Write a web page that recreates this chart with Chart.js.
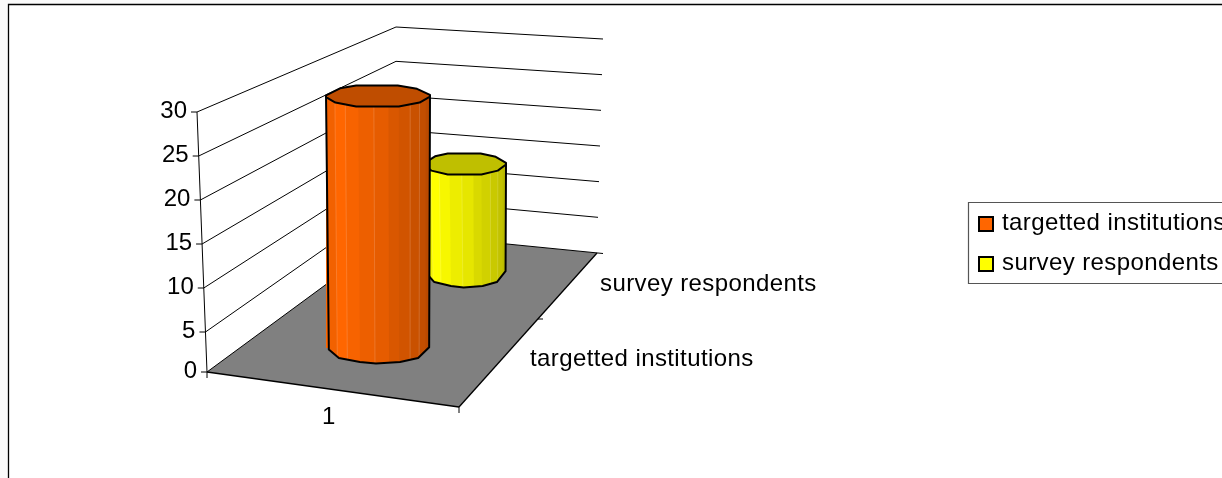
<!DOCTYPE html>
<html>
<head>
<meta charset="utf-8">
<title>Institutions</title>
<script src="https://cdn.jsdelivr.net/npm/chart.js@4"></script>
<style>
  html, body { margin: 0; padding: 0; background: #fafafa; overflow: hidden; }
  canvas { display: block; }
</style>
</head>
<body>
<canvas id="chart" width="1222" height="478"></canvas>
<script>
const categories = ['1'];
const seriesNames = ['targetted institutions', 'survey respondents'];
const targettedValues = [30, null];
const respondentValues = [null, 15];
const tickLabels = [0, 5, 10, 15, 20, 25, 30];
const seriesColors = ['#ff6600', '#ffff00'];

const FONT = '24px "Liberation Sans", Arial, sans-serif';
const TEXT_SPACING = 0.4;
const AREA_TOP = 112;
const AREA_BOTTOM = 376;
const FLOOR_Y = 372;

// corners of the box: floor level and top level
const frontAxis = { bottom: [207, FLOOR_Y], top: [197, 112] };
const backLeft = { bottom: [396, 233], top: [396, 27] };
const backRight = { bottom: [597, 253], top: [603, 39] };
const frontRight = [459, 407];

// each series stands further back, so it gets its own vertical scale
function depthScale(zeroPixel, pxPerUnit) {
    return {
        display: false,
        bounds: 'data',
        min: -(AREA_BOTTOM - zeroPixel) / pxPerUnit,
        max: (zeroPixel - AREA_TOP) / pxPerUnit
    };
}

function lerp(a, b, t) {
    return [a[0] + (b[0] - a[0]) * t, a[1] + (b[1] - a[1]) * t];
}

function line(ctx, a, b) {
    ctx.beginPath();
    ctx.moveTo(a[0], a[1]);
    ctx.lineTo(b[0], b[1]);
    ctx.stroke();
}

function shade(hex, f) {
    const n = parseInt(hex.slice(1), 16);
    const r = Math.round((n >> 16 & 255) * f);
    const g = Math.round((n >> 8 & 255) * f);
    const b = Math.round((n & 255) * f);
    return `rgb(${r},${g},${b})`;
}

function spacedText(ctx, text, x, y, spacing) {
    ctx.letterSpacing = spacing + 'px';
    ctx.fillText(text, x, y);
    ctx.letterSpacing = '0px';
}

// walls, floor and axes sit behind the cylinders
const boxPlugin = {
    id: 'box',
    beforeDatasetsDraw(chart) {
        const ctx = chart.ctx;
        const y = chart.scales.y;
        const maxVal = tickLabels[tickLabels.length - 1];
        ctx.save();
        ctx.fillStyle = '#fff';
        ctx.fillRect(8, 4, 1214, 474);
        ctx.strokeStyle = '#000';
        ctx.lineWidth = 1.3;
        ctx.beginPath();
        ctx.moveTo(8.5, 480);
        ctx.lineTo(8.5, 4.5);
        ctx.lineTo(1224, 4.5);
        ctx.stroke();

        ctx.fillStyle = '#808080';
        ctx.beginPath();
        ctx.moveTo(frontAxis.bottom[0], frontAxis.bottom[1]);
        ctx.lineTo(frontRight[0], frontRight[1]);
        ctx.lineTo(backRight.bottom[0], backRight.bottom[1]);
        ctx.lineTo(backLeft.bottom[0], backLeft.bottom[1]);
        ctx.closePath();
        ctx.fill();

        ctx.lineWidth = 1;
        ctx.fillStyle = '#000';
        ctx.font = FONT;
        ctx.textAlign = 'right';
        ctx.textBaseline = 'alphabetic';
        y.ticks.forEach(tick => {
            const t = tick.value / maxVal;
            const py = Math.min(y.getPixelForValue(tick.value), FLOOR_Y);
            const axisX = frontAxis.bottom[0] + (frontAxis.top[0] - frontAxis.bottom[0]) * (FLOOR_Y - py) / (FLOOR_Y - frontAxis.top[1]);
            const bl = lerp(backLeft.bottom, backLeft.top, t);
            const br = lerp(backRight.bottom, backRight.top, t);
            line(ctx, [axisX, py], bl);
            line(ctx, bl, t === 0 ? [603, 253.5] : br);
            line(ctx, [axisX - 6, py], [axisX, py]);
            ctx.fillText(String(tick.value), axisX - 10, py + 6);
        });
        line(ctx, frontAxis.bottom, frontAxis.top);

        ctx.lineWidth = 1.3;
        line(ctx, frontAxis.bottom, frontRight);
        line(ctx, frontRight, backRight.bottom);
        ctx.lineWidth = 1;
        line(ctx, frontAxis.bottom, [frontAxis.bottom[0], frontAxis.bottom[1] + 6]);
        line(ctx, frontRight, [frontRight[0], frontRight[1] + 6]);
        line(ctx, [538, 319], [543, 319]);

        // axis names
        ctx.textAlign = 'left';
        ctx.fillText(categories[0], 322, 424);
        spacedText(ctx, chart.data.labels[0], 530, 366, TEXT_SPACING);
        spacedText(ctx, chart.data.labels[1], 600, 291, TEXT_SPACING);
        ctx.restore();
    },
    afterDatasetDraw(chart, args) {
        const bar = chart.getDatasetMeta(args.index).data[args.index];
        drawCylinder(chart.ctx, bar, seriesColors[args.index]);
    },
    afterDraw(chart) {
        const ctx = chart.ctx;
        ctx.save();
        ctx.strokeStyle = '#555';
        ctx.lineWidth = 1.2;
        ctx.beginPath();
        ctx.moveTo(1224, 202.5);
        ctx.lineTo(968.5, 202.5);
        ctx.lineTo(968.5, 283.5);
        ctx.lineTo(1224, 283.5);
        ctx.stroke();
        ctx.font = FONT;
        ctx.textAlign = 'left';
        seriesNames.forEach((name, i) => {
            const top = 217 + i * 40;
            ctx.fillStyle = seriesColors[i];
            ctx.fillRect(979, top, 14, 14);
            ctx.strokeStyle = '#000';
            ctx.lineWidth = 2;
            ctx.strokeRect(979, top, 14, 14);
            ctx.fillStyle = '#000';
            spacedText(ctx, name, 1002, 230 + i * 40, TEXT_SPACING);
        });
        ctx.restore();
    }
};

// polygon outlines of the two end caps, as fractions of the half axes
const capFront = [[-1, 0.1], [-0.82, 0.6], [-0.42, 0.95], [0.4, 0.95], [0.8, 0.6], [1, 0.05]];
const capBack = [[1, -0.1], [0.75, -0.65], [0.38, -0.95], [-0.42, -0.95], [-0.73, -0.7], [-1, -0.05]];
const baseFront = [[-1, 0.1], [-0.8, 0.65], [-0.38, 0.9], [-0.06, 1], [0.42, 0.9], [0.78, 0.65], [1, -0.05]];
const facetEdges = [-1, -0.83, -0.63, -0.38, -0.08, 0.2, 0.4, 0.62, 0.8, 0.92, 1];
const facetShades = [0.95, 1, 0.97, 0.93, 0.9, 0.85, 0.82, 0.79, 0.76, 0.73];
const seamEdges = [-0.83, -0.63, -0.08, 0.62, 0.8];

function drawCylinder(ctx, bar, color) {
    const hw = bar.width / 2;
    const cx = bar.x;
    const topY = bar.y;
    const baseY = bar.base;
    const baseX = cx + 1;
    const baseHw = hw * 0.965;
    const capRy = 11;
    const baseRy = 15.5;
    const basePts = baseFront.map(p => [baseX + p[0] * baseHw, baseY + p[1] * baseRy]);

    ctx.save();
    ctx.lineJoin = 'round';

    const body = new Path2D();
    body.moveTo(cx - hw, topY);
    basePts.forEach(p => body.lineTo(p[0], p[1]));
    body.lineTo(cx + hw, topY);
    body.closePath();

    ctx.save();
    ctx.clip(body);
    facetShades.forEach((f, i) => {
        const x0 = facetEdges[i];
        const x1 = facetEdges[i + 1];
        ctx.fillStyle = shade(color, f);
        ctx.beginPath();
        ctx.moveTo(cx + x0 * hw, topY);
        ctx.lineTo(cx + x1 * hw + 0.5, topY);
        ctx.lineTo(baseX + x1 * baseHw + 0.5, baseY + baseRy);
        ctx.lineTo(baseX + x0 * baseHw, baseY + baseRy);
        ctx.closePath();
        ctx.fill();
    });
    ctx.strokeStyle = 'rgba(255,255,255,0.16)';
    ctx.lineWidth = 1;
    seamEdges.forEach(u => {
        line(ctx, [cx + u * hw, topY], [baseX + u * baseHw, baseY + baseRy]);
    });
    ctx.restore();

    ctx.strokeStyle = '#000';
    ctx.lineWidth = 2;
    ctx.beginPath();
    ctx.moveTo(cx - hw, topY);
    basePts.forEach(p => ctx.lineTo(p[0], p[1]));
    ctx.lineTo(cx + hw, topY);
    ctx.stroke();

    ctx.fillStyle = shade(color, 0.75);
    ctx.beginPath();
    capFront.concat(capBack).forEach((p, i) => {
        const px = cx + p[0] * hw;
        const py = topY + p[1] * capRy;
        if (i === 0) ctx.moveTo(px, py);
        else ctx.lineTo(px, py);
    });
    ctx.closePath();
    ctx.fill();
    ctx.stroke();
    ctx.restore();
}

new Chart(document.getElementById('chart'), {
    type: 'bar',
    data: {
        labels: seriesNames,
        datasets: [
            {
                label: seriesNames[0],
                data: targettedValues,
                yAxisID: 'yFront',
                backgroundColor: seriesColors[0],
                barPercentage: 1.195,
                categoryPercentage: 1,
                grouped: false,
                clip: false
            },
            {
                label: seriesNames[1],
                data: respondentValues,
                yAxisID: 'yBack',
                backgroundColor: seriesColors[1],
                barPercentage: 0.9425,
                categoryPercentage: 1,
                grouped: false,
                clip: false
            }
        ]
    },
    options: {
        responsive: false,
        animation: false,
        layout: {
            padding: { left: 334.5, right: 713.5, top: AREA_TOP, bottom: 478 - AREA_BOTTOM }
        },
        plugins: {
            legend: { display: false },
            tooltip: { enabled: false }
        },
        scales: {
            x: { display: false },
            y: {
                display: false,
                min: tickLabels[0],
                max: tickLabels[tickLabels.length - 1],
                afterBuildTicks(scale) {
                    scale.ticks = tickLabels.map(v => ({ value: v }));
                }
            },
            yFront: depthScale(348, 8.4),
            yBack: depthScale(272, 7.2)
        }
    },
    plugins: [boxPlugin]
});
</script>
</body>
</html>
